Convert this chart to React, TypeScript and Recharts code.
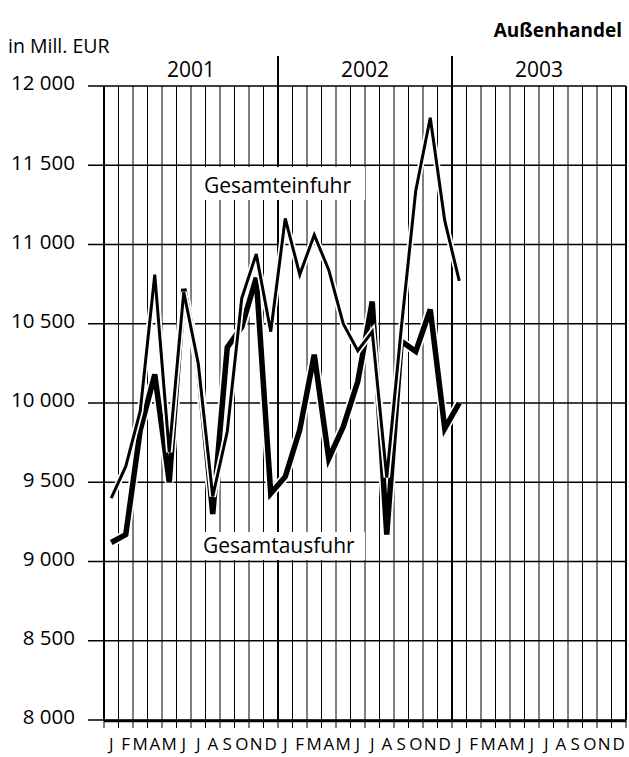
import { LineChart, Line, XAxis, YAxis, CartesianGrid } from "recharts";

// Monatswerte Jan 2001 bis Jan 2003, in Mill. EUR
const monthLabels = ["J", "F", "M", "A", "M", "J", "J", "A", "S", "O", "N", "D"];
const years = ["2001", "2002", "2003"];
const einfuhr = [
  9400, 9600, 9950, 10810, 9690, 10700, 10250, 9410, 9820, 10660, 10940, 10450,
  11165, 10810, 11060, 10840, 10500, 10330, 10450, 9530, 10470, 11340, 11800, 11150,
  10770,
];
const ausfuhr = [
  9120, 9170, 9830, 10180, 9500, 10720, 10240, 9300, 10350, 10480, 10790, 9430,
  9535, 9830, 10305, 9650, 9850, 10135, 10640, 9170, 10390, 10325, 10590, 9840,
  10000,
];
const yTicks = [8000, 8500, 9000, 9500, 10000, 10500, 11000, 11500, 12000];

const data = einfuhr.map((v, i) => ({ x: i + 0.5, einfuhr: v, ausfuhr: ausfuhr[i] }));
const nMonths = years.length * 12;
const monthTicks = Array.from({ length: nMonths }, (_, i) => i + 0.5);
const boundaries = Array.from({ length: nMonths + 1 }, (_, i) => i);
const yearCenters = years.map((_, i) => i * 12 + 6);
const yearDividers = [12, 24];

const font = "'Open Sans', sans-serif";
const fmt = (v: number) => String(v).replace(/\B(?=(\d{3})+(?!\d))/g, " ");
const blank = () => "";

export default function App() {
  return (
    <div style={{ position: "absolute", left: 0, top: 0, width: 629, height: 757, background: "#fff", fontFamily: font }}>
      <LineChart width={629} height={757} data={data} margin={{ top: 45, right: 3, bottom: 0, left: 0 }}>
        <CartesianGrid xAxisId="bt" horizontal={false} stroke="#000" strokeWidth={1} />
        <CartesianGrid xAxisId="div" horizontal={false} stroke="#000" strokeWidth={2} />
        <CartesianGrid xAxisId="m" vertical={false} stroke="#000" strokeWidth={1.5} />
        <XAxis
          xAxisId="div"
          dataKey="x"
          orientation="top"
          type="number"
          domain={[0, nMonths]}
          allowDataOverflow
          ticks={yearDividers}
          interval={0}
          tickFormatter={blank}
          tickSize={30}
          tickLine={{ stroke: "#000", strokeWidth: 2 }}
          axisLine={false}
          height={1}
        />
        <XAxis
          xAxisId="yr"
          dataKey="x"
          orientation="top"
          type="number"
          domain={[0, nMonths]}
          allowDataOverflow
          ticks={yearCenters}
          interval={0}
          tickFormatter={(v) => years[(v - 6) / 12]}
          tickLine={false}
          axisLine={false}
          height={40}
          tick={{ fill: "#000", fontSize: 21, fontFamily: font }}
        />
        <XAxis
          xAxisId="bt"
          dataKey="x"
          orientation="bottom"
          type="number"
          domain={[0, nMonths]}
          allowDataOverflow
          ticks={boundaries}
          interval={0}
          tickFormatter={blank}
          tickSize={8}
          tickLine={{ stroke: "#000", strokeWidth: 1 }}
          axisLine={false}
          height={1}
        />
        <XAxis
          xAxisId="m"
          dataKey="x"
          type="number"
          domain={[0, nMonths]}
          allowDataOverflow
          ticks={monthTicks}
          interval={0}
          tickFormatter={(v) => monthLabels[Math.floor(v) % 12]}
          tickLine={false}
          axisLine={{ stroke: "#000", strokeWidth: 2.5 }}
          height={36}
          tickMargin={11}
          tick={{ fill: "#000", fontSize: 17, fontFamily: font }}
        />
        <YAxis
          domain={[8000, 12000]}
          allowDataOverflow
          ticks={yTicks}
          interval={0}
          tickFormatter={fmt}
          width={104}
          tickSize={16}
          tickMargin={13}
          tickLine={{ stroke: "#000", strokeWidth: 1.5 }}
          axisLine={{ stroke: "#000", strokeWidth: 2 }}
          tick={{ fill: "#000", fontSize: 20.5, fontFamily: font, dy: -3 }}
        />
        <Line xAxisId="m" name="ausfuhr-halo" dataKey="ausfuhr" stroke="#fff" strokeWidth={9} dot={false} activeDot={false} isAnimationActive={false} />
        <Line xAxisId="m" name="Gesamtausfuhr" dataKey="ausfuhr" stroke="#000" strokeWidth={5.5} dot={false} activeDot={false} isAnimationActive={false} />
        <Line xAxisId="m" name="einfuhr-halo" dataKey="einfuhr" stroke="#fff" strokeWidth={6.5} dot={false} activeDot={false} isAnimationActive={false} />
        <Line xAxisId="m" name="Gesamteinfuhr" dataKey="einfuhr" stroke="#000" strokeWidth={3} dot={false} activeDot={false} isAnimationActive={false} />
      </LineChart>
      <svg width={629} height={757} style={{ position: "absolute", left: 0, top: 0, pointerEvents: "none" }} fontFamily={font}>
        <text x={622} y={37} textAnchor="end" fontWeight="bold" fontSize={19}>Außenhandel</text>
        <text x={8} y={53} fontSize={19.5}>in Mill. EUR</text>
        <rect x={192} y={167} width={173} height={33} fill="#fff" />
        <text x={204} y={193} fontSize={21}>Gesamteinfuhr</text>
        <rect x={192} y={532} width={173} height={28} fill="#fff" />
        <text x={203} y={553} fontSize={21}>Gesamtausfuhr</text>
      </svg>
    </div>
  );
}
